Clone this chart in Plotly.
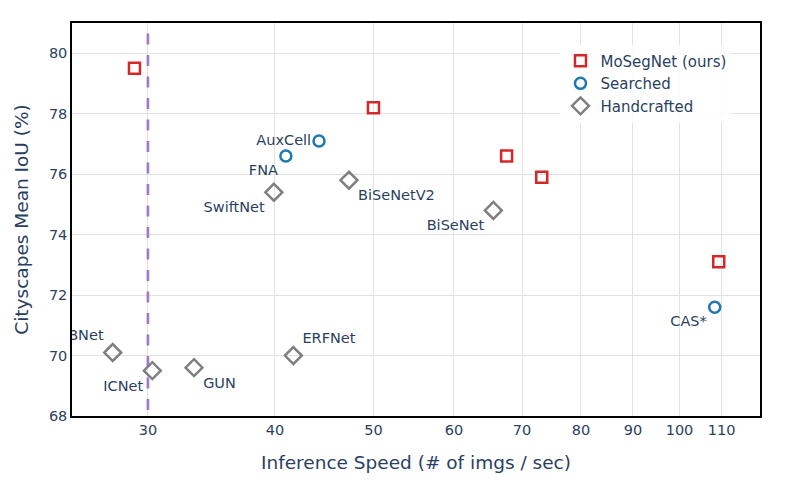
import numpy as np
import plotly.graph_objects as go

# MoSegNet (ours)
ours_speed = [29.1, 50.0, 67.6, 73.2, 109.3]
ours_miou = [79.5, 78.2, 76.6, 75.9, 73.1]

# searched architectures
searched_names = ["AuxCell", "FNA", "CAS*"]
searched_speed = [44.2, 41.0, 108.3]
searched_miou = [77.1, 76.6, 71.6]
searched_pos = ["middle left", "bottom left", "bottom left"]

# handcrafted architectures
hand_names = ["SwiftNet", "BiSeNetV2", "BiSeNet", "BNet", "ICNet", "GUN", "ERFNet"]
hand_speed = [39.9, 47.3, 65.6, 27.7, 30.3, 33.3, 41.7]
hand_miou = [75.4, 75.8, 74.8, 70.1, 69.5, 69.6, 70.0]
hand_pos = ["bottom left", "bottom right", "bottom left", "top left",
            "bottom left", "bottom right", "top right"]

x_ticks = [30, 40, 50, 60, 70, 80, 90, 100, 110]
y_ticks = [68, 70, 72, 74, 76, 78, 80]
realtime_fps = 30

font_family = "Verdana, DejaVu Sans, sans-serif"

fig = go.Figure()
fig.add_trace(go.Scatter(
    x=ours_speed, y=ours_miou, mode="markers", name="MoSegNet (ours)",
    marker=dict(symbol="square-open", size=11, color="#d62728", line=dict(width=2.5))
))
fig.add_trace(go.Scatter(
    x=searched_speed, y=searched_miou, mode="markers+text", name="Searched",
    text=searched_names, textposition=searched_pos, textfont=dict(size=14.5),
    marker=dict(symbol="circle-open", size=11, color="#1f77b4", line=dict(width=2.5))
))
fig.add_trace(go.Scatter(
    x=hand_speed, y=hand_miou, mode="markers+text", name="Handcrafted",
    text=hand_names, textposition=hand_pos, textfont=dict(size=14.5),
    marker=dict(symbol="diamond-open", size=13, color="#7f7f7f", line=dict(width=2.5))
))

# real-time threshold, drawn top-down so the dash pattern starts at the top
fig.add_shape(type="line", xref="x", yref="y",
              x0=realtime_fps, x1=realtime_fps, y0=80.65, y1=68,
              opacity=0.85,
              line=dict(color="#9467bd", width=2.7, dash="11px,10.5px"))

fig.update_layout(
    width=789, height=489,
    template="plotly_white",
    font=dict(family=font_family, size=14.5, color="#2a3f5f"),
    margin=dict(l=64, r=37, t=15, b=81),
    legend=dict(x=0.71, y=0.945, xanchor="left", yanchor="top",
                bgcolor="rgba(255,255,255,0.85)", font=dict(size=15)),
    xaxis=dict(
        type="log", range=[np.log10(25.26), np.log10(120)],
        tickvals=x_ticks, ticktext=[str(v) for v in x_ticks],
        title=dict(text="Inference Speed (# of imgs / sec)", font=dict(size=18.5), standoff=19),
        showline=True, mirror=True, linecolor="black", linewidth=1.5,
        gridcolor="#e2e2e2", zeroline=False,
    ),
    yaxis=dict(
        range=[68, 81], tickvals=y_ticks,
        title=dict(text="Cityscapes Mean IoU (%)", font=dict(size=18.5)),
        showline=True, mirror=True, linecolor="black", linewidth=1.5,
        gridcolor="#e2e2e2", zeroline=False,
    ),
)

fig.write_html("out.html")
